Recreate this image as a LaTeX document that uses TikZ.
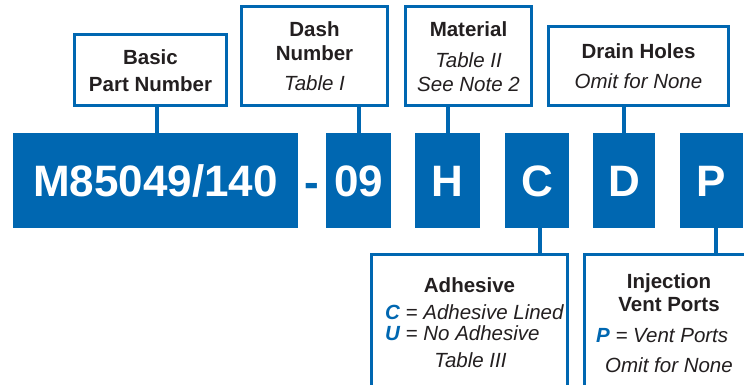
\documentclass[tikz,border=0pt]{standalone}
\usepackage{fontspec}
\setmainfont{Liberation Sans}
\definecolor{mblue}{RGB}{0,103,177}
\definecolor{ink}{RGB}{35,31,32}
\begin{document}
\begin{tikzpicture}[x=1pt,y=-1pt,
  codebox/.style={fill=mblue, text=white, inner sep=0pt, outer sep=0pt,
    font=\bfseries\fontsize{44}{50}\selectfont, text height=31.5pt, text depth=0pt},
  lblbox/.style={draw=mblue, fill=white, line width=3pt, inner sep=0pt, outer sep=0pt},
  conn/.style={draw=mblue, line width=3.5pt},
  hd/.style={anchor=base, inner sep=0pt, text=ink, font=\bfseries\fontsize{20.5}{24}\selectfont},
  itl/.style={anchor=base, inner sep=0pt, text=ink, font=\itshape\fontsize{20.5}{24}\selectfont},
  ]
\useasboundingbox (0,0) rectangle (744,385);
\fill[white] (0,0) rectangle (744,385);
\clip (0,0) rectangle (744,385);

% code boxes
\node[codebox, minimum width=285pt, minimum height=95pt] (m) at (155.5,180.5) {M85049/140};
\node[anchor=base, inner sep=0pt, text=mblue, font=\bfseries\fontsize{44}{50}\selectfont] (hy) at (312,197) {-};
\node[codebox, minimum width=65pt, minimum height=95pt] (n09) at (358.5,180.5) {09};
\node[codebox, minimum width=65pt, minimum height=95pt] (h) at (447.5,180.5) {H};
\node[codebox, minimum width=64pt, minimum height=95pt] (c) at (537,180.5) {C};
\node[codebox, minimum width=62pt, minimum height=95pt] (d) at (624,180.5) {D};
\node[codebox, minimum width=63pt, minimum height=95pt] (p) at (711.5,180.5) {P};

% label boxes
\node[lblbox, minimum width=152pt, minimum height=71.5pt] (basic) at (150.5,70.25) {};
\node[lblbox, minimum width=146pt, minimum height=99.5pt] (dash) at (314.5,56.25) {};
\node[lblbox, minimum width=126pt, minimum height=99.5pt] (mat) at (468.5,56.25) {};
\node[lblbox, minimum width=180pt, minimum height=79.5pt] (drain) at (638.5,66.25) {};
\node[lblbox, minimum width=196pt, minimum height=165.5pt] (adh) at (469.5,337.25) {};
\node[lblbox, minimum width=205.5pt, minimum height=165.5pt] (inj) at (687.25,337.25) {};

% connectors
\draw[conn] (basic.south -| 157,0) -- (m.north -| 157,0);
\draw[conn] (dash.south -| 359,0) -- (n09.north -| 359,0);
\draw[conn] (mat.south -| 448,0) -- (h.north -| 448,0);
\draw[conn] (drain.south -| 624,0) -- (d.north -| 624,0);
\draw[conn] (c.south -| 540,0) -- (adh.north -| 540,0);
\draw[conn] (p.south -| 716,0) -- (inj.north -| 716,0);

% texts
\node[hd] (t1) at (150.5,65) {Basic};
\node[hd] (t2) at (150.5,92) {Part Number};
\node[hd] (t3) at (314.5,37) {Dash};
\node[hd] (t4) at (314.5,61) {Number};
\node[itl] (t5) at (314.5,91) {Table I};
\node[hd] (t6) at (468.5,37) {Material};
\node[itl] (t7) at (468.5,68) {Table II};
\node[itl] (t8) at (468.5,92) {See Note 2};
\node[hd] (t9) at (638.5,59) {Drain Holes};
\node[itl] (t10) at (638.5,89) {Omit for None};
\node[hd] (t11) at (469.5,292) {Adhesive};
\node[itl, anchor=base west] (t12) at (385,319) {{\bfseries\color{mblue}C} = Adhesive Lined};
\node[itl, anchor=base west] (t13) at (385,340) {{\bfseries\color{mblue}U} = No Adhesive};
\node[itl] (t14) at (470.5,367) {Table III};
\node[hd] (t15) at (669,288) {Injection};
\node[hd] (t16) at (669,311) {Vent Ports};
\node[itl, anchor=base west] (t17) at (596,342) {{\bfseries\color{mblue}P} = Vent Ports};
\node[itl] (t18) at (669,372) {Omit for None};
\end{tikzpicture}
\end{document}
